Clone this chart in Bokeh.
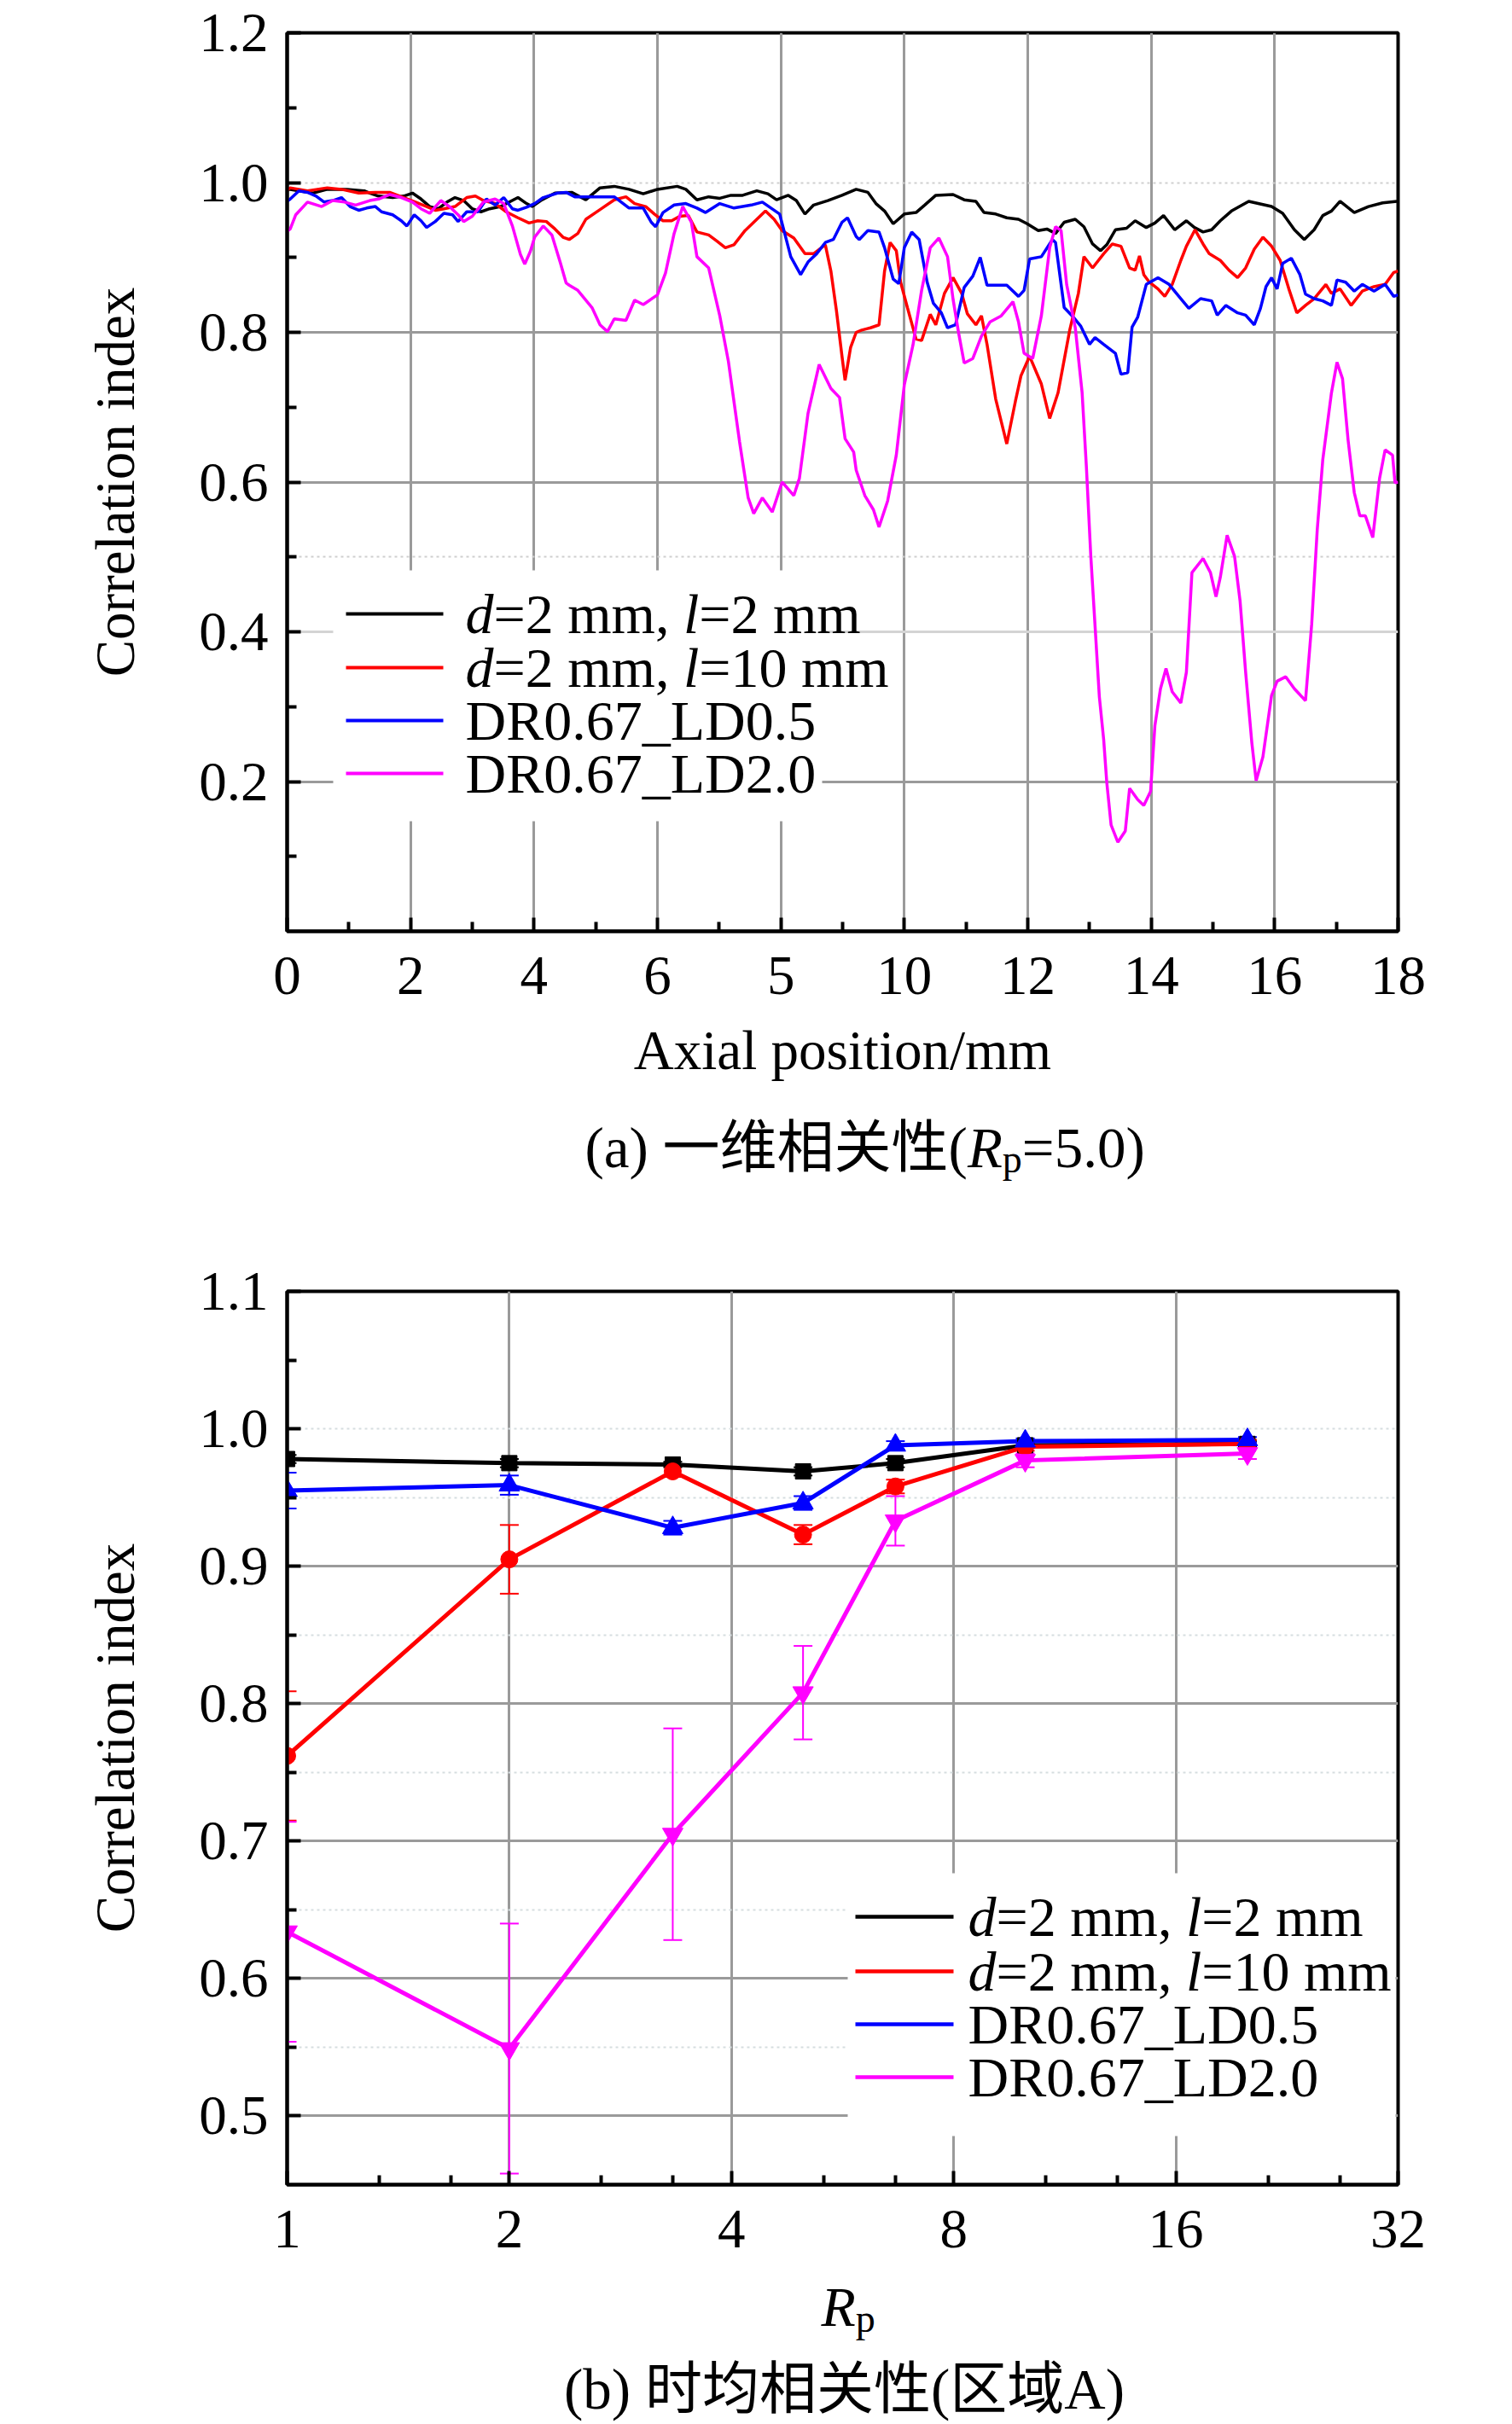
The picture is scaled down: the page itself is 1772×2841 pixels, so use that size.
from bokeh.plotting import figure
from bokeh.models import FixedTicker, Label, Grid, PrintfTickFormatter
from bokeh.layouts import column
from bokeh.embed import file_html
from bokeh.resources import INLINE

SERIF = "Liberation Serif"
MIXED = "'Liberation Serif', 'Noto Sans CJK SC'"

# ---------------- data: (a) one-dimensional correlation ----------------
x_black = [0.0,0.05,0.20,0.42,0.65,0.97,1.25,1.34,1.48,1.71,1.89,2.03,2.17,2.31,2.45,2.59,2.72,2.86,3.00,3.14,3.28,3.46,3.60,3.74,3.88,3.97,4.11,4.34,4.61,4.84,5.07,5.30,5.54,5.77,6.00,6.32,6.46,6.64,6.83,7.01,7.19,7.38,7.61,7.79,7.93,8.12,8.25,8.39,8.53,8.76,8.99,9.22,9.41,9.54,9.68,9.82,10.00,10.19,10.33,10.51,10.79,10.97,11.16,11.29,11.48,11.66,11.85,11.99,12.17,12.31,12.45,12.59,12.77,12.91,13.05,13.18,13.28,13.42,13.60,13.74,13.92,14.06,14.20,14.38,14.57,14.70,14.84,14.98,15.12,15.30,15.58,15.95,16.13,16.32,16.48,16.64,16.78,16.92,17.06,17.29,17.52,17.75,17.98]
y_black = [0.990,0.991,0.989,0.986,0.991,0.991,0.989,0.986,0.982,0.980,0.982,0.986,0.978,0.968,0.965,0.974,0.980,0.976,0.965,0.961,0.965,0.968,0.974,0.980,0.972,0.968,0.976,0.986,0.987,0.977,0.993,0.995,0.991,0.985,0.991,0.995,0.991,0.977,0.981,0.979,0.983,0.983,0.989,0.985,0.977,0.983,0.976,0.958,0.970,0.976,0.983,0.991,0.987,0.972,0.962,0.945,0.958,0.960,0.970,0.983,0.984,0.977,0.975,0.960,0.958,0.953,0.951,0.945,0.936,0.938,0.932,0.947,0.951,0.941,0.918,0.909,0.917,0.937,0.939,0.949,0.940,0.946,0.956,0.937,0.949,0.940,0.934,0.937,0.949,0.962,0.975,0.968,0.959,0.937,0.924,0.937,0.956,0.962,0.975,0.960,0.968,0.973,0.975]

x_red = [0.0,0.05,0.33,0.65,0.88,1.16,1.43,1.66,1.89,2.08,2.26,2.40,2.54,2.72,2.91,3.05,3.18,3.37,3.55,3.74,3.92,4.06,4.20,4.34,4.47,4.57,4.71,4.84,5.07,5.30,5.49,5.63,5.81,5.95,6.09,6.23,6.36,6.50,6.64,6.83,6.96,7.10,7.24,7.42,7.61,7.75,7.89,8.02,8.21,8.39,8.53,8.72,8.81,8.90,8.99,9.04,9.13,9.22,9.31,9.45,9.59,9.68,9.77,9.87,9.94,10.05,10.19,10.28,10.42,10.51,10.65,10.79,10.93,11.02,11.16,11.25,11.34,11.48,11.66,11.80,11.89,12.03,12.22,12.355,12.49,12.68,12.82,12.91,13.05,13.23,13.37,13.51,13.65,13.74,13.81,13.88,13.97,14.11,14.22,14.34,14.48,14.57,14.71,14.84,14.94,15.12,15.26,15.40,15.53,15.67,15.81,15.95,16.09,16.23,16.36,16.50,16.64,16.83,16.92,17.06,17.24,17.42,17.61,17.79,17.93,18.0]
y_red = [0.990,0.993,0.989,0.993,0.991,0.986,0.987,0.987,0.980,0.974,0.968,0.963,0.965,0.968,0.980,0.982,0.976,0.972,0.961,0.953,0.946,0.949,0.948,0.938,0.927,0.924,0.932,0.951,0.964,0.977,0.981,0.972,0.968,0.958,0.949,0.949,0.955,0.956,0.934,0.930,0.922,0.913,0.917,0.936,0.951,0.962,0.951,0.936,0.926,0.905,0.905,0.917,0.882,0.829,0.768,0.736,0.780,0.800,0.803,0.806,0.810,0.882,0.920,0.909,0.867,0.833,0.791,0.789,0.824,0.810,0.852,0.873,0.852,0.825,0.810,0.822,0.784,0.711,0.651,0.708,0.742,0.768,0.731,0.685,0.719,0.803,0.852,0.901,0.886,0.905,0.918,0.915,0.886,0.883,0.902,0.877,0.867,0.858,0.848,0.864,0.896,0.915,0.937,0.918,0.905,0.896,0.883,0.873,0.886,0.911,0.927,0.915,0.896,0.858,0.826,0.836,0.845,0.864,0.852,0.858,0.836,0.855,0.861,0.864,0.880,0.882]

x_blue = [0.0,0.05,0.19,0.33,0.47,0.60,0.74,0.88,1.02,1.16,1.29,1.43,1.53,1.71,1.85,1.94,2.06,2.17,2.26,2.40,2.54,2.68,2.77,2.91,3.09,3.23,3.37,3.51,3.65,3.74,3.88,4.01,4.15,4.38,4.52,4.66,4.84,5.30,5.54,5.77,5.90,5.97,6.09,6.27,6.46,6.64,6.78,7.01,7.24,7.52,7.70,7.98,8.16,8.32,8.44,8.58,8.72,8.85,8.99,9.08,9.22,9.27,9.41,9.59,9.68,9.82,9.91,10.00,10.12,10.24,10.37,10.47,10.60,10.70,10.83,10.97,11.11,11.23,11.34,11.48,11.66,11.85,11.94,12.03,12.22,12.40,12.45,12.59,12.72,12.86,13.00,13.09,13.23,13.42,13.51,13.62,13.69,13.78,13.92,14.11,14.29,14.48,14.61,14.80,14.98,15.07,15.21,15.40,15.53,15.67,15.77,15.86,15.95,16.04,16.13,16.27,16.41,16.50,16.64,16.78,16.92,17.01,17.15,17.29,17.42,17.61,17.79,17.93,18.0]
y_blue = [0.975,0.978,0.989,0.987,0.982,0.974,0.976,0.980,0.968,0.963,0.966,0.968,0.961,0.957,0.949,0.942,0.957,0.949,0.940,0.948,0.959,0.957,0.948,0.961,0.961,0.978,0.970,0.980,0.965,0.963,0.967,0.972,0.980,0.986,0.987,0.981,0.981,0.981,0.966,0.966,0.947,0.941,0.960,0.970,0.972,0.966,0.960,0.972,0.966,0.970,0.974,0.958,0.901,0.877,0.894,0.905,0.920,0.924,0.947,0.953,0.928,0.924,0.936,0.934,0.913,0.871,0.865,0.913,0.934,0.924,0.867,0.839,0.826,0.806,0.810,0.860,0.875,0.900,0.863,0.863,0.863,0.848,0.856,0.898,0.901,0.924,0.920,0.833,0.822,0.808,0.784,0.793,0.784,0.772,0.744,0.746,0.807,0.820,0.864,0.873,0.864,0.845,0.832,0.845,0.842,0.823,0.836,0.826,0.823,0.810,0.832,0.861,0.873,0.858,0.892,0.899,0.877,0.851,0.845,0.842,0.836,0.870,0.867,0.855,0.864,0.855,0.864,0.848,0.850]

x_mag = [0.0,0.05,0.14,0.33,0.56,0.74,0.93,1.11,1.34,1.48,1.66,1.85,2.03,2.17,2.31,2.49,2.63,2.77,2.86,3.00,3.18,3.37,3.51,3.65,3.78,3.85,3.94,4.01,4.15,4.29,4.43,4.52,4.57,4.71,4.94,5.07,5.19,5.30,5.49,5.63,5.77,6.00,6.13,6.27,6.41,6.55,6.64,6.83,7.01,7.15,7.33,7.47,7.56,7.70,7.86,8.02,8.21,8.30,8.44,8.62,8.81,8.95,9.04,9.18,9.22,9.36,9.50,9.59,9.73,9.87,10.00,10.14,10.28,10.42,10.56,10.70,10.79,10.88,10.97,11.11,11.25,11.39,11.57,11.76,11.85,11.94,12.08,12.22,12.355,12.45,12.54,12.63,12.77,12.88,12.95,13.02,13.09,13.16,13.23,13.28,13.35,13.46,13.58,13.65,13.78,13.88,13.99,14.06,14.15,14.24,14.34,14.48,14.57,14.66,14.84,14.96,15.05,15.12,15.23,15.35,15.44,15.53,15.63,15.70,15.81,15.95,16.04,16.18,16.32,16.50,16.60,16.69,16.78,16.92,17.01,17.10,17.19,17.29,17.38,17.47,17.59,17.70,17.79,17.91,17.95,18.0]
y_mag = [0.935,0.938,0.957,0.974,0.968,0.976,0.974,0.970,0.976,0.978,0.984,0.980,0.974,0.965,0.959,0.976,0.968,0.957,0.948,0.955,0.974,0.978,0.972,0.942,0.904,0.891,0.908,0.927,0.942,0.930,0.892,0.866,0.863,0.856,0.833,0.810,0.801,0.818,0.816,0.843,0.837,0.850,0.879,0.932,0.968,0.947,0.901,0.886,0.822,0.761,0.654,0.579,0.558,0.579,0.560,0.600,0.582,0.605,0.692,0.757,0.725,0.713,0.658,0.640,0.616,0.582,0.563,0.540,0.575,0.636,0.730,0.783,0.856,0.913,0.926,0.901,0.844,0.799,0.759,0.765,0.795,0.814,0.822,0.841,0.814,0.772,0.765,0.822,0.913,0.941,0.936,0.864,0.806,0.720,0.620,0.503,0.408,0.313,0.256,0.199,0.142,0.119,0.134,0.191,0.176,0.168,0.187,0.275,0.324,0.351,0.320,0.305,0.346,0.479,0.498,0.479,0.447,0.473,0.529,0.501,0.441,0.346,0.252,0.201,0.233,0.315,0.334,0.340,0.324,0.308,0.410,0.536,0.630,0.719,0.760,0.738,0.656,0.586,0.555,0.555,0.526,0.605,0.643,0.636,0.599,0.600]

# legend texts: list of (text, italic) pieces
legend_labels = [
    [("d", True), ("=2 mm, ", False), ("l", True), ("=2 mm", False)],
    [("d", True), ("=2 mm, ", False), ("l", True), ("=10 mm", False)],
    [("DR0.67_LD0.5", False)],
    [("DR0.67_LD2.0", False)],
]
colors = ["#000000", "#ff0000", "#0000ff", "#ff00ff"]

x_ticks_a = [0, 2, 4, 6, 8, 10, 12, 14, 16, 18]
x_tick_text_a = {8: "5"}
y_ticks_a = [0.2, 0.4, 0.6, 0.8, 1.0, 1.2]

# ---------------- data: (b) time-averaged correlation ----------------
rp = [1, 2, 3.33, 5, 6.67, 10, 20]
b_black = [0.978, 0.975, 0.974, 0.969, 0.975, 0.988, 0.989]
b_red = [0.762, 0.905, 0.969, 0.923, 0.958, 0.987, 0.989]
b_blue = [0.955, 0.959, 0.928, 0.946, 0.988, 0.991, 0.992]
b_mag = [0.634, 0.549, 0.705, 0.808, 0.933, 0.977, 0.982]
e_black = [0.003, 0.003, 0.002, 0.003, 0.003, 0.002, 0.002]
e_red = [0.047, 0.025, 0.004, 0.007, 0.005, 0.003, 0.003]
e_blue = [0.013, 0.007, 0.005, 0.005, 0.003, 0.002, 0.002]
e_mag = [0.080, 0.091, 0.077, 0.034, 0.018, 0.005, 0.004]
markers = ["square", "circle", "triangle", "inverted_triangle"]
marker_sizes = [18, 20, 24, 24]
x_ticks_b = [1, 2, 4, 8, 16, 32]
y_ticks_b = [0.5, 0.6, 0.7, 0.8, 0.9, 1.0, 1.1]

GRID = "#9a9a9a"
W = 1730

# advance widths (em) of Liberation Serif glyphs used for placing text pieces
ADV = {"d": 0.5, "l": 0.278, "=": 0.564, "2": 0.5, "1": 0.5, "0": 0.5, " ": 0.25,
       "m": 0.778, ",": 0.25}


def text_width(s, size):
    return sum(ADV.get(ch, 0.5) for ch in s) * size


# ---- layout geometry in page pixels ----
A_L, A_R, A_T, A_B = 333, 1635, 38, 1091
A_END = 1303            # bottom of figure (a)
C1_END = 1390           # bottom of caption strip (a)
B_L, B_R, B_T, B_B = 336, 1638, 1513, 2560
B_END = 2665
C2_END = 2838


def pa(xp, yp):
    return (xp - A_L) * 18.0 / (A_R - A_L), (A_B - yp) * 1.2 / (A_B - A_T)


def pb(xp, yp):
    return 2 ** ((xp - B_L) * 5.0 / (B_R - B_L)), 0.45 + (B_B - yp) * 0.65 / (B_B - B_T)


def style(p):
    for ax in (p.xaxis[0], p.yaxis[0]):
        ax.axis_line_width = 4
        ax.axis_line_color = "black"
        ax.major_tick_in = 16
        ax.major_tick_out = 0
        ax.minor_tick_in = 11
        ax.minor_tick_out = 0
        ax.major_tick_line_width = 4
        ax.minor_tick_line_width = 4
        ax.major_tick_line_color = "black"
        ax.minor_tick_line_color = "black"
        ax.major_label_text_font = SERIF
        ax.major_label_text_font_size = "65px"
        ax.major_label_text_color = "black"
        ax.axis_label_text_font = SERIF
        ax.axis_label_text_font_size = "65px"
        ax.axis_label_text_font_style = "normal"
        ax.axis_label_text_color = "black"
    p.xaxis.major_label_standoff = 30
    p.yaxis.major_label_standoff = 22
    p.outline_line_color = "black"
    p.outline_line_width = 4
    p.outline_line_alpha = 1
    p.background_fill_color = "white"
    p.border_fill_color = "white"


def add_grid(p, dim, ticks, color, width, dash="solid"):
    p.add_layout(Grid(dimension=dim, ticker=FixedTicker(ticks=ticks),
                      grid_line_color=color, grid_line_width=width,
                      grid_line_dash=dash))


def put_text(p, x, y, txt, size, italic=False, font=SERIF, align="left"):
    p.add_layout(Label(x=x, y=y, text=txt, text_font=font, text_font_size="%dpx" % size,
                       text_font_style="italic" if italic else "normal",
                       text_color="black", text_baseline="middle",
                       text_align=align))


def manual_legend(p, conv, box, line_x0, line_x1, text_x, rows_y, lw, size=66):
    (bx0, by0), (bx1, by1) = conv(box[0], box[1]), conv(box[2], box[3])
    p.quad(left=bx0, right=bx1, bottom=min(by0, by1), top=max(by0, by1),
           fill_color="white", line_color=None)
    for pieces, c, yp in zip(legend_labels, colors, rows_y):
        (x0, y0), (x1, _) = conv(line_x0, yp), conv(line_x1, yp)
        p.segment(x0=[x0], y0=[y0], x1=[x1], y1=[y0], line_color=c, line_width=lw)
        xp = text_x
        for txt, it in pieces:
            tx, ty = conv(xp, yp)
            put_text(p, tx, ty, txt, size, italic=it)
            xp += text_width(txt, size)


def caption_fig(top, end, left, right):
    # a text-only strip whose frame lines up with the plot frame above it;
    # data coordinates equal page pixels horizontally
    h = end - top
    c = figure(frame_width=right - left, frame_height=h,
               x_range=(left, right), y_range=(0, h),
               output_backend="svg", toolbar_location=None, title=None,
               x_axis_location=None, y_axis_location=None,
               min_border=0, min_border_left=left, min_border_right=W - right,
               min_border_top=0, min_border_bottom=0)
    c.xgrid.visible = False
    c.ygrid.visible = False
    c.outline_line_color = None
    c.background_fill_color = "white"
    c.border_fill_color = "white"
    return c, (lambda xp, yp: (xp, end - yp))


# ---------------- figure (a) ----------------
p1 = figure(frame_width=A_R - A_L, frame_height=A_B - A_T, x_range=(0, 18), y_range=(0, 1.2),
            output_backend="svg", toolbar_location=None, title=None,
            min_border_left=A_L, min_border_right=W - A_R, min_border_top=A_T,
            min_border_bottom=A_END - A_B)
style(p1)
p1.xaxis.ticker = FixedTicker(ticks=x_ticks_a, minor_ticks=[1, 3, 5, 7, 9, 11, 13, 15, 17])
p1.xaxis.major_label_overrides = x_tick_text_a
p1.yaxis.ticker = FixedTicker(ticks=y_ticks_a, minor_ticks=[0.1, 0.3, 0.5, 0.7, 0.9, 1.1])
p1.yaxis.formatter = PrintfTickFormatter(format="%.1f")
p1.xaxis.axis_label = "Axial position/mm"
p1.xaxis.axis_label_standoff = 27
p1.yaxis.axis_label = "Correlation index"
p1.yaxis.axis_label_standoff = 59
p1.xgrid.ticker = FixedTicker(ticks=[2, 4, 6, 8, 10, 12, 14, 16])
p1.xgrid.grid_line_color = GRID
p1.xgrid.grid_line_width = 3
p1.ygrid.ticker = FixedTicker(ticks=[0.2, 0.6, 0.8])
p1.ygrid.grid_line_color = GRID
p1.ygrid.grid_line_width = 3
add_grid(p1, 1, [0.4], "#d4d4d4", 3)
add_grid(p1, 1, [0.5, 1.0], "#cfcfcf", 2, "3 4")

for xs, ys, c in zip([x_black, x_red, x_blue, x_mag], [y_black, y_red, y_blue, y_mag], colors):
    p1.line(xs, ys, line_color=c, line_width=3.5)

manual_legend(p1, pa, (387, 668, 960, 962), 402, 516, 542, [719, 782, 844, 906], 4)

# caption strip (a)
cap1, pc1 = caption_fig(A_END, C1_END, A_L, A_R)
cx = 682
for txt, size, it, dy, font in [("(a) 一维相关性(", 67, False, 0, MIXED), ("R", 67, True, 0, SERIF),
                                ("p", 46, False, 14, SERIF), ("=5.0)", 67, False, 0, SERIF)]:
    tx, ty = pc1(cx, 1344 + dy)
    put_text(cap1, tx, ty, txt, size, italic=it, font=font)
    if txt.startswith("(a)"):
        cx += (0.333 + 0.444 + 0.333 + 0.25) * 67 + 5 * 67 + 0.333 * 67
    elif txt == "R":
        cx += 0.611 * 67
    else:
        cx += 0.5 * 46

# ---------------- figure (b) ----------------
p2 = figure(frame_width=B_R - B_L, frame_height=B_B - B_T, x_range=(1, 32), y_range=(0.45, 1.1),
            x_axis_type="log", output_backend="svg", toolbar_location=None, title=None,
            min_border_left=B_L, min_border_right=W - B_R, min_border_top=B_T - C1_END,
            min_border_bottom=B_END - B_B)
style(p2)
minor_b = [b * f for b in [1, 2, 4, 8, 16] for f in (4 / 3, 5 / 3)]
p2.xaxis.ticker = FixedTicker(ticks=x_ticks_b, minor_ticks=minor_b)
p2.xaxis.formatter = PrintfTickFormatter(format="%d")
p2.yaxis.ticker = FixedTicker(ticks=y_ticks_b,
                              minor_ticks=[0.55, 0.65, 0.75, 0.85, 0.95, 1.05])
p2.yaxis.formatter = PrintfTickFormatter(format="%.1f")
p2.yaxis.axis_label = "Correlation index"
p2.yaxis.axis_label_standoff = 59
p2.xgrid.ticker = FixedTicker(ticks=[2, 4, 8, 16])
p2.xgrid.grid_line_color = GRID
p2.xgrid.grid_line_width = 3
p2.ygrid.ticker = FixedTicker(ticks=[0.5, 0.6, 0.7, 0.8, 0.9])
p2.ygrid.grid_line_color = GRID
p2.ygrid.grid_line_width = 3
add_grid(p2, 1, [0.55, 0.65, 0.75, 0.85, 0.95, 1.0], "#d6dde0", 2, "3 4")

for ys, es, c in zip([b_black, b_red, b_blue, b_mag], [e_black, e_red, e_blue, e_mag], colors):
    lo = [y - e for y, e in zip(ys, es)]
    hi = [y + e for y, e in zip(ys, es)]
    p2.segment(x0=rp, y0=lo, x1=rp, y1=hi, line_color=c, line_width=2)
    p2.scatter(rp, lo, marker="dash", size=22, line_color=c, line_width=2)
    p2.scatter(rp, hi, marker="dash", size=22, line_color=c, line_width=2)
for ys, c in zip([b_black, b_red, b_blue, b_mag], colors):
    p2.line(rp, ys, line_color=c, line_width=5)
for ys, c, m, ms in zip([b_black, b_red, b_blue, b_mag], colors, markers, marker_sizes):
    p2.scatter(rp, ys, marker=m, size=ms, fill_color=c, line_color=c)

manual_legend(p2, pb, (993, 2195, B_R - 3, 2503), 1002, 1117, 1134, [2246, 2310, 2372, 2434], 4.5)

# caption strip (b): x-axis label R_p and caption
cap2, pc2 = caption_fig(B_END, C2_END, B_L, B_R)
tx, ty = pc2(962, 2703)
put_text(cap2, tx, ty, "R", 66, italic=True)
tx, ty = pc2(962 + 0.611 * 66, 2717)
put_text(cap2, tx, ty, "p", 46)
tx, ty = pc2(989, 2799)
put_text(cap2, tx, ty, "(b) 时均相关性(区域A)", 67, font=MIXED, align="center")

layout = column(p1, cap1, p2, cap2)
open("out.html", "w").write(file_html(layout, INLINE))
